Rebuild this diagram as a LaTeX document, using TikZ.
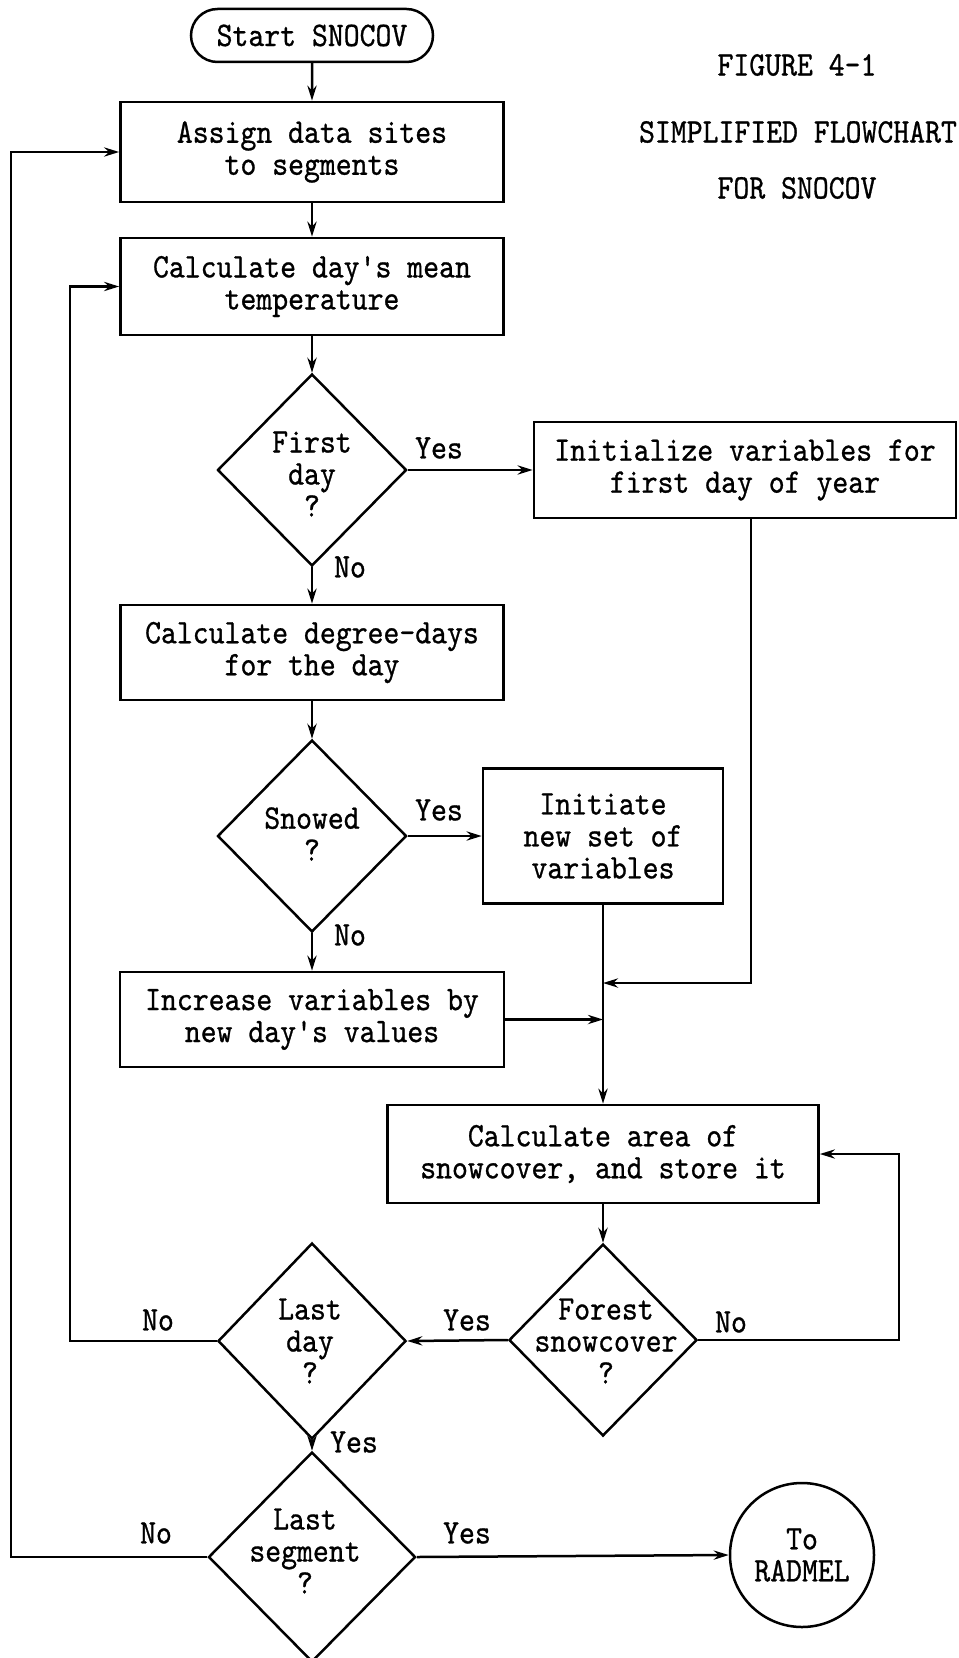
\documentclass[tikz,border=0pt]{standalone}
\usepackage{fontspec}
\setmonofont{lmmono10-regular}[Extension=.otf, FakeStretch=0.88, FakeBold=0.8]
\usetikzlibrary{shapes.geometric,shapes.misc,arrows.meta}
\begin{document}
\begin{tikzpicture}[x=0.5pt,y=-0.5pt,
  every node/.style={font=\ttfamily\fontsize{17.2}{16}\selectfont, inner sep=0pt, align=center},
  flow/.style={draw, line width=1.25pt, -{Stealth[length=7.5pt,width=4.6pt]}},
  procbox/.style={draw, line width=1.35pt, rectangle},
  decision/.style={draw, line width=1.25pt, diamond, inner sep=0pt},
  terminal/.style={draw, line width=1.25pt, rounded rectangle},
  connector/.style={draw, line width=1.25pt, circle}
]
\useasboundingbox (0,0) rectangle (958,1658);

% title block
\node (fig)   at (797,65)  {FIGURE 4-1};
\node (title) at (798,132) {SIMPLIFIED FLOWCHART};
\node (sub)   at (797,188) {FOR SNOCOV};

% main column
\node[terminal, minimum width=121pt, minimum height=26.5pt] (start) at (312,35.5) {Start SNOCOV};
\node[procbox, minimum width=191.5pt, minimum height=50pt] (assign) at (312,152) {Assign data sites\\to segments};
\node[procbox, minimum width=191.5pt, minimum height=48.5pt] (temp) at (312,286.5) {Calculate day's mean\\temperature};
\node[decision, minimum width=94.5pt, minimum height=96pt] (firstday) at (312,470) {};
\node (firstdayt) at (312,474) {First\\day\\?};
\node[procbox, minimum width=191.5pt, minimum height=47.5pt] (degree) at (312,652.5) {Calculate degree-days\\for the day};
\node[decision, minimum width=94.5pt, minimum height=96pt] (snowed) at (312,836) {};
\node (snowedt) at (312,834) {Snowed\\?};
\node[procbox, minimum width=192pt, minimum height=47.5pt] (increase) at (312,1019.5) {Increase variables by\\new day's values};
\node[decision, minimum width=94pt, minimum height=98pt] (lastday) at (312,1341) {};
\node (lastdayt) at (310,1341) {Last\\day\\?};
\node[decision, minimum width=103.5pt, minimum height=105pt] (lastseg) at (312,1557) {};
\node (lastsegt) at (305,1551) {Last\\segment\\?};

% right-hand branches
\node[procbox, minimum width=211pt, minimum height=48pt] (initialize) at (745,470) {Initialize variables for\\first day of year};
\node[procbox, minimum width=120pt, minimum height=67.5pt] (initiate) at (603,836) {Initiate\\new set of\\variables};
\node[procbox, minimum width=215.5pt, minimum height=49pt] (area) at (603,1154) {Calculate area of\\snowcover, and store it};
\node[decision, minimum width=94pt, minimum height=96pt] (forest) at (603,1340) {};
\node (forestt) at (606,1341) {Forest\\snowcover\\?};
\node[connector, minimum size=72pt] (radmel) at (802,1555) {To\\RADMEL};

% junction points and loop rails
\coordinate (j1) at (603,983);
\coordinate (railA) at (11,0);
\coordinate (railB) at (70,0);
\coordinate (railC) at (899,0);

% branch labels
\node (yes1) at (439,448)  {Yes};
\node (no1)  at (350,567)  {No};
\node (yes2) at (439,810)  {Yes};
\node (no2)  at (350,935)  {No};
\node (no3)  at (731,1322) {No};
\node (yes3) at (467,1320) {Yes};
\node (no4)  at (158,1320) {No};
\node (yes4) at (354,1442) {Yes};
\node (no5)  at (156,1533) {No};
\node (yes5) at (467,1533) {Yes};

% connectors
\draw[flow] (start) -- (assign);
\draw[flow] (assign) -- (temp);
\draw[flow] (temp) -- (firstday);
\draw[flow] (firstday.east) -- (initialize.west);
\draw[flow] (firstday.south) -- (degree.north);
\draw[flow] (degree) -- (snowed);
\draw[flow] (snowed.east) -- (initiate.west);
\draw[flow] (snowed.south) -- (increase.north);
\draw[flow] (initiate.south) -- (area.north);
\draw[flow] ([xshift=3pt]initialize.south) |- (j1);
\draw[flow] (increase.east) -- (increase.east -| j1);
\draw[flow] (area.south) -- (forest.north);
\draw[flow] (forest.east) -- (forest.east -| railC) |- (area.east);
\draw[flow] (forest.west) -- (lastday.east);
\draw[flow] (lastday.west) -- (lastday.west -| railB) |- (temp.west);
\draw[flow] (lastday.south) -- (lastseg.north);
\draw[flow] (lastseg.east) -- (radmel.west);
\draw[flow] (lastseg.west) -- (lastseg.west -| railA) |- (assign.west);
\end{tikzpicture}
\end{document}
